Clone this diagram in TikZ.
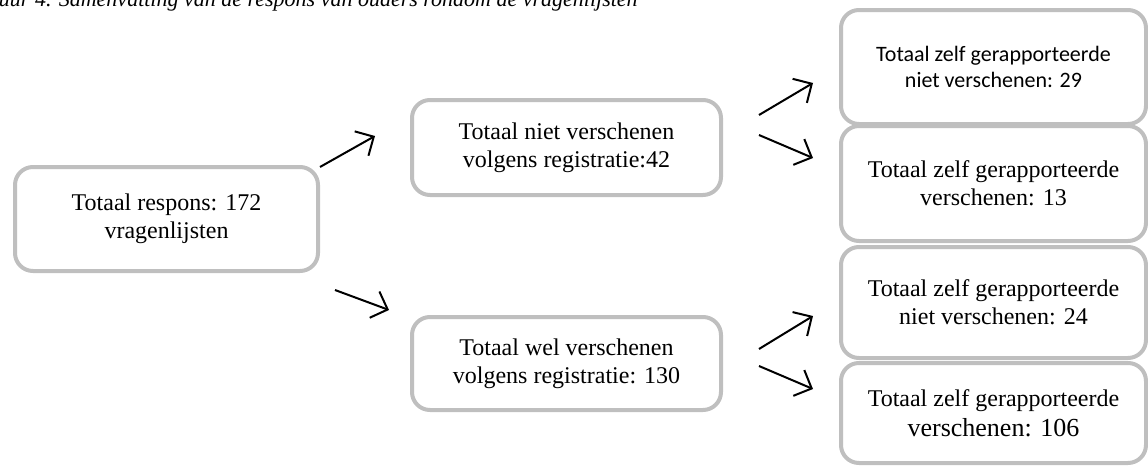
\documentclass[tikz,border=0pt]{standalone}
\usepackage{fontspec}
\setmainfont{Liberation Serif}
\newfontfamily\calibri{Carlito}
\usetikzlibrary{arrows.meta}

\begin{document}
\begin{tikzpicture}[x=0.5pt,y=-0.5pt,
  box/.style={draw=boxgray, line width=2pt, rounded corners=9pt, fill=white,
    align=center, inner sep=0pt, font=\fontsize{12}{13.8}\selectfont},
  arr/.style={draw=black, line width=1pt,
    -{Straight Barb[length=7pt,width=14pt,line width=1pt]}}]
\definecolor{boxgray}{HTML}{BFBFBF}
\useasboundingbox (0,0) rectangle (1148,466);

% caption line, running off the top of the page
\node[anchor=base west, inner sep=0pt, font=\itshape\fontsize{11}{13}\selectfont]
  (cap) at (-32,6) {Figuur 4. Samenvatting van de respons van ouders rondom de vragenlijsten};

% total response
\node[box, minimum width=151.5pt, minimum height=52pt] (A) at (166.5,219)
  {Totaal respons: 172\\vragenlijsten};

% registration split
\node[box, minimum width=154.5pt, minimum height=47.5pt] (B) at (566.5,147.5)
  {Totaal niet verschenen\\volgens registratie:42};
\node[box, minimum width=154.5pt, minimum height=46.5pt] (C) at (566.5,363.5)
  {Totaal wel verschenen\\volgens registratie: 130};

% self-reported split
\node[box, minimum width=152.5pt, minimum height=57pt,
  font=\calibri\fontsize{11}{13.4}\selectfont] (D1) at (993.5,67)
  {Totaal zelf gerapporteerde\\niet verschenen: 29};
\node[box, minimum width=152.5pt, minimum height=57.5pt] (D2) at (993.5,183.5)
  {Totaal zelf gerapporteerde\\verschenen: 13};
\node[box, minimum width=152.5pt, minimum height=55.5pt] (D3) at (993.5,302.5)
  {Totaal zelf gerapporteerde\\niet verschenen: 24};
\node[box, minimum width=152.5pt, minimum height=50pt] (D4) at (993.5,413)
  {Totaal zelf gerapporteerde\\[1pt]{\fontsize{13}{15}\selectfont verschenen: 106}};

% connectors
\draw[arr] ([shift={(0,2)}]A.north east) -- ([shift={(-35,-11.5)}]B.west);
\draw[arr] ([shift={(15,17)}]A.south east) -- ([shift={(-21,-53.5)}]C.west);
\draw[arr] ([shift={(36,-32.5)}]B.east) -- ([shift={(-26,16)}]D1.west);
\draw[arr] ([shift={(36,-12.5)}]B.east) -- ([shift={(-26,-25.5)}]D2.west);
\draw[arr] ([shift={(36,-14.5)}]C.east) -- ([shift={(-26,13.5)}]D3.west);
\draw[arr] ([shift={(36,2.5)}]C.east) -- ([shift={(-26,-24)}]D4.west);
\end{tikzpicture}
\end{document}
